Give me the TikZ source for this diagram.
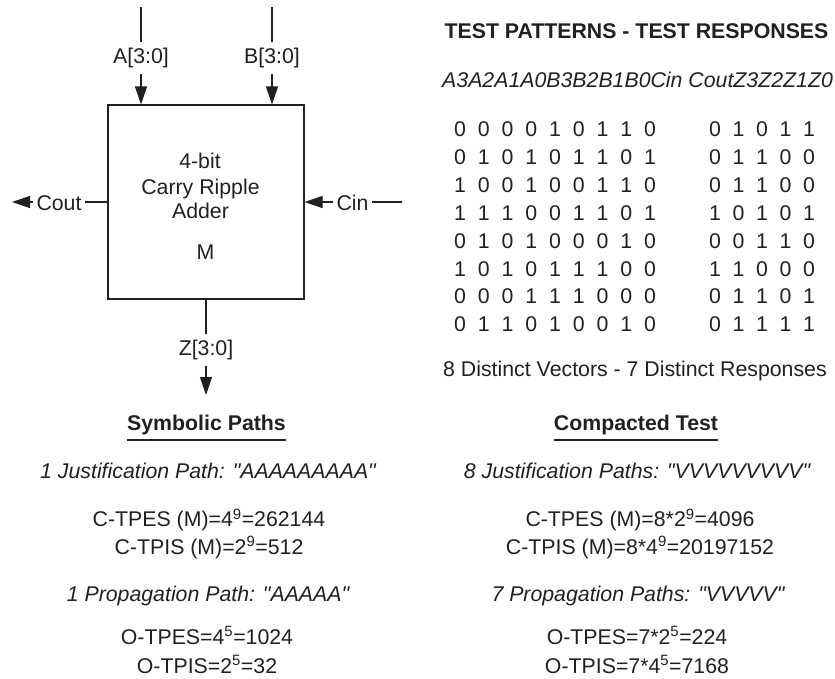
\documentclass[tikz,border=0pt]{standalone}
\usepackage{fontspec}
\setmainfont{Liberation Sans}
% plain family without TeX ligatures, so that " stays a straight quote
\newfontfamily\plainsans{Liberation Sans}
\usetikzlibrary{arrows.meta}
\definecolor{ink}{HTML}{231F20}
\begin{document}
\begin{tikzpicture}[x=1pt,y=-1pt,
  every node/.style={text=ink, font=\plainsans\fontsize{21.3}{25}\selectfont, inner sep=0pt},
  lbl/.style={text height=15.3pt, text depth=4.5pt, inner xsep=3pt, inner ysep=6pt},
  txt/.style={anchor=base},
  head/.style={anchor=base, font=\plainsans\fontsize{21.3}{25}\selectfont\bfseries},
  path/.style={anchor=base, font=\plainsans\fontsize{21.3}{25}\selectfont\itshape},
  wire/.style={draw=ink, line width=1.1pt},
  arr/.style={wire, -{Triangle[length=18pt,width=12pt]}},
  uline/.style={draw=ink, line width=1.1pt}]
\useasboundingbox (0,0) rectangle (835,678);

% --- the adder block and its ports ---
\node[draw=ink, line width=1.1pt, minimum width=196pt, minimum height=194pt] (box) at (206,202) {};
\node[txt] (t1) at (200,168.5) {4-bit};
\node[txt] (t2) at (200.5,194) {Carry Ripple};
\node[txt] (t3) at (200.5,218.3) {Adder};
\node[txt] (t4) at (205.5,259.3) {M};

\coordinate (atop) at (141,7);
\coordinate (btop) at (272,7);
\node[lbl, anchor=base] (alab) at (141,63.5) {A[3:0]};
\node[lbl, anchor=base] (blab) at (272,63.5) {B[3:0]};
\draw[wire] (atop) -- (alab.north);
\draw[wire] (btop) -- (blab.north);
\draw[arr] (alab.south) -- (alab.south |- box.north);
\draw[arr] (blab.south) -- (blab.south |- box.north);

\node[lbl, anchor=base] (cout) at (59,210) {Cout};
\coordinate (coutend) at (12,202);
\draw[wire] (box.west) -- (box.west -| cout.east);
\draw[arr] (box.west -| cout.west) -- (coutend);

\node[lbl, anchor=base] (cin) at (352.5,210) {Cin};
\coordinate (cinstart) at (402,202);
\draw[wire] (cinstart) -- (box.east -| cin.east);
\draw[arr] (box.east -| cin.west) -- (box.east);

\node[lbl, anchor=base] (zlab) at (206,355) {Z[3:0]};
\coordinate (zend) at (206,395);
\draw[wire] (box.south -| zlab) -- (zlab.north);
\draw[arr] (zlab.south) -- (zend);

% --- test patterns and responses ---
\node[head] (title) at (636.5,38) {TEST PATTERNS - TEST RESPONSES};
\node[path, anchor=base west] (cols) at (442,87.3) {A3A2A1A0B3B2B1B0Cin CoutZ3Z2Z1Z0};

\foreach \row [count=\r] in {{0,0,0,0,1,0,1,1,0},{0,1,0,1,0,1,1,0,1},{1,0,0,1,0,0,1,1,0},{1,1,1,0,0,1,1,0,1},{0,1,0,1,0,0,0,1,0},{1,0,1,0,1,1,1,0,0},{0,0,0,1,1,1,0,0,0},{0,1,1,0,1,0,0,1,0}}
  \foreach \d [count=\c] in \row
    \node[txt] (p-\r-\c) at ({460+(\c-1)*23.75},{136.8+(\r-1)*27.86}) {\d};

\foreach \row [count=\r] in {{0,1,0,1,1},{0,1,1,0,0},{0,1,1,0,0},{1,0,1,0,1},{0,0,1,1,0},{1,1,0,0,0},{0,1,1,0,1},{0,1,1,1,1}}
  \foreach \d [count=\c] in \row
    \node[txt] (q-\r-\c) at ({715+(\c-1)*23.5},{136.8+(\r-1)*27.86}) {\d};

\node[txt] (distinct) at (635,376.7) {8 Distinct Vectors - 7 Distinct Responses};

% --- symbolic paths ---
\node[head] (sp) at (206.5,430.7) {Symbolic Paths};
\draw[uline] ([yshift=-9.3pt]sp.base west) -- ([yshift=-9.3pt]sp.base east);
\node[path] (sj) at (208,478) {1 Justification Path: "AAAAAAAAA"};
\node[txt] (sc1) at (209,526.7) {C-TPES (M)=4\textsuperscript{9}=262144};
\node[txt] (sc2) at (209,554) {C-TPIS (M)=2\textsuperscript{9}=512};
\node[path] (sprop) at (208,601.7) {1 Propagation Path: "AAAAA"};
\node[txt] (so1) at (207,644) {O-TPES=4\textsuperscript{5}=1024};
\node[txt] (so2) at (207,673) {O-TPIS=2\textsuperscript{5}=32};

% --- compacted test ---
\node[head] (ct) at (636,430.7) {Compacted Test};
\draw[uline] ([yshift=-9.3pt]ct.base west) -- ([yshift=-9.3pt]ct.base east);
\node[path] (cj) at (637,478) {8 Justification Paths: "VVVVVVVVV"};
\node[txt] (cc1) at (640,526.7) {C-TPES (M)=8*2\textsuperscript{9}=4096};
\node[txt] (cc2) at (640,554) {C-TPIS (M)=8*4\textsuperscript{9}=20197152};
\node[path] (cprop) at (638,601.7) {7 Propagation Paths: "VVVVV"};
\node[txt] (co1) at (637,644) {O-TPES=7*2\textsuperscript{5}=224};
\node[txt] (co2) at (637,673) {O-TPIS=7*4\textsuperscript{5}=7168};
\end{tikzpicture}
\end{document}
